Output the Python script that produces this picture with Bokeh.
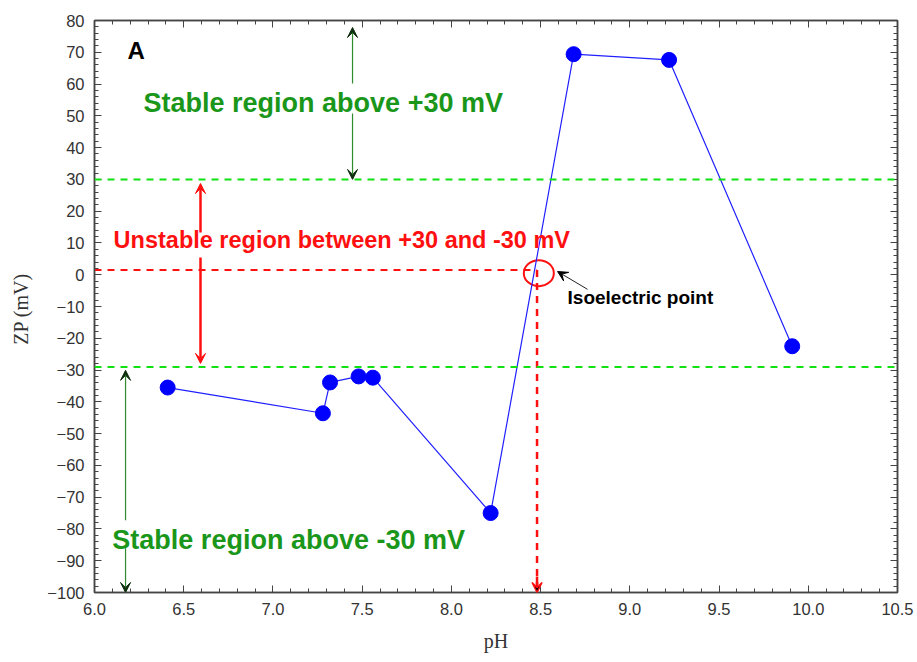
from bokeh.plotting import figure
from bokeh.models import (Range1d, LinearAxis, SingleIntervalTicker, NumeralTickFormatter,
                          Arrow, VeeHead, Label, Span)
from bokeh.embed import file_html
from bokeh.resources import INLINE

# ---- data ----
ph = [6.41, 7.28, 7.32, 7.48, 7.56, 8.22, 8.685, 9.22, 9.91]
zp = [-35.5, -43.6, -33.9, -32.0, -32.4, -75.0, 69.4, 67.6, -22.5]
upper_limit = 30
lower_limit = -29
iep_ph = 8.48
iep_zp = 1.5
x_lim = (6.0, 10.5)
y_lim = (-100, 80)

GREEN_TXT = "#1a961a"
GREEN_ARW = "#2e8b2e"
LIME = "#11e011"
RED = "#ff1010"

p = figure(width=917, height=662, output_backend="svg", toolbar_location=None,
           x_range=Range1d(*x_lim), y_range=Range1d(*y_lim),
           x_axis_label="pH", y_axis_label="ZP  (mV)",
           min_border_left=94, min_border_right=20, min_border_top=20, min_border_bottom=70)
p.grid.visible = False
p.outline_line_color = "#444444"
p.outline_line_width = 1.5
p.background_fill_color = "white"
p.border_fill_color = "white"

p.xaxis.ticker = SingleIntervalTicker(interval=0.5, num_minor_ticks=5)
p.yaxis.ticker = SingleIntervalTicker(interval=10, num_minor_ticks=5)
p.xaxis.formatter = NumeralTickFormatter(format="0.0")
for ax in (p.xaxis[0], p.yaxis[0]):
    ax.major_tick_in = 7
    ax.major_tick_out = 0
    ax.minor_tick_in = 4
    ax.minor_tick_out = 0
    ax.axis_line_color = "#444444"
    ax.axis_line_width = 1.5
    ax.major_tick_line_color = "#444444"
    ax.minor_tick_line_color = "#444444"
    ax.major_label_text_font = "Liberation Sans"
    ax.major_label_text_font_size = "16.5px"
    ax.major_label_text_color = "#333333"
    ax.axis_label_text_font = "Liberation Serif"
    ax.axis_label_text_font_style = "normal"
    ax.axis_label_text_font_size = "20px"
    ax.axis_label_text_color = "#333333"
p.yaxis.major_label_standoff = 10
p.xaxis.major_label_standoff = 10
p.yaxis.axis_label_standoff = 12
p.xaxis.axis_label_standoff = 12

# mirrored axes (ticks only)
rax = LinearAxis(ticker=SingleIntervalTicker(interval=10, num_minor_ticks=5))
tax = LinearAxis(ticker=SingleIntervalTicker(interval=0.5, num_minor_ticks=5))
for ax in (rax, tax):
    ax.major_tick_in = 7
    ax.major_tick_out = 0
    ax.minor_tick_in = 4
    ax.minor_tick_out = 0
    ax.axis_line_color = "#444444"
    ax.axis_line_width = 1.5
    ax.major_tick_line_color = "#444444"
    ax.minor_tick_line_color = "#444444"
    ax.major_label_text_alpha = 0
    ax.major_label_text_font_size = "1px"
    ax.major_label_standoff = 0
p.add_layout(rax, "right")
p.add_layout(tax, "above")

# threshold lines
p.add_layout(Span(location=upper_limit, dimension="width", line_color=LIME,
                  line_dash="7 6", line_width=2))
p.add_layout(Span(location=lower_limit, dimension="width", line_color=LIME,
                  line_dash="7 6", line_width=2))

# isoelectric point guide lines
p.line([x_lim[0], iep_ph], [iep_zp, iep_zp], line_color=RED, line_dash="7 6", line_width=2)
p.line([iep_ph, iep_ph], [iep_zp, y_lim[0] + 1.5], line_color=RED, line_dash="7 6", line_width=2.5)
p.add_layout(Arrow(end=VeeHead(size=10, fill_color="black", line_color=RED, line_width=1.5),
                   x_start=iep_ph, y_start=y_lim[0] + 5, x_end=iep_ph, y_end=y_lim[0],
                   line_color=RED, line_width=2.5))
p.ellipse(x=[iep_ph + 0.01], y=[iep_zp - 1.0], width=30, height=26, width_units="screen",
          height_units="screen", fill_color=None, line_color=RED, line_width=2)

# data
p.line(ph, zp, line_color="#2020ff", line_width=1.2)
p.scatter(ph, zp, size=15, color="#0000ff")

# annotation arrows
def varrow(x, y0, y1, color, head_fill, width=1.2):
    p.add_layout(Arrow(end=VeeHead(size=10, fill_color=head_fill, line_color=head_fill, line_width=1),
                       x_start=x, y_start=y0, x_end=x, y_end=y1,
                       line_color=color, line_width=width))

varrow(7.446, 60.2, 77.8, GREEN_ARW, "#103010")
varrow(7.446, 50.7, 30.0, GREEN_ARW, "#103010")
varrow(6.594, 13.3, 28.7, RED, RED, 2.5)
varrow(6.594, 5.4, -27.9, RED, RED, 2.5)
varrow(6.174, -77.3, -30.1, GREEN_ARW, "#103010")
varrow(6.174, -86.1, -100.0, GREEN_ARW, "#103010")

p.add_layout(Arrow(end=VeeHead(size=10, fill_color="black", line_color="black"),
                   x_start=8.763, y_start=-4.6, x_end=8.595, y_end=1.0,
                   line_color="#222222", line_width=1))

def label(x, y, text, color, size):
    p.add_layout(Label(x=x, y=y, text=text, text_color=color, text_font="Liberation Sans",
                       text_font_style="bold", text_font_size=size, text_baseline="middle"))

label(6.185, 70.6, "A", "black", "24px")
label(6.275, 53.9, "Stable region above +30 mV", GREEN_TXT, "27px")
label(6.107, 10.8, "Unstable region between +30 and -30 mV", RED, "23.5px")
label(6.10, -83.6, "Stable region above -30 mV", GREEN_TXT, "27px")
label(8.651, -7.2, "Isoelectric point", "black", "19px")

open("out.html", "w").write(file_html(p, INLINE))
